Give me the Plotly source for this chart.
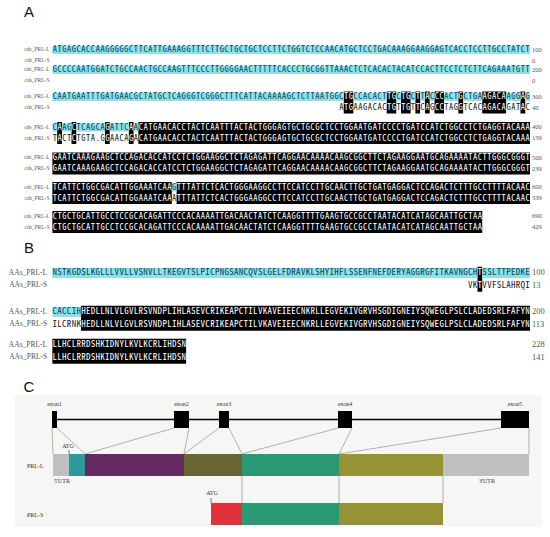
import plotly.graph_objects as go

# ---------------- data ----------------
# A: CDS alignment, PRL-L vs PRL-S (100 columns per block)
cds_L = [
    "ATGAGCACCAAGGGGGCTTCATTGAAAGGTTTCTTGCTGCTGCTCCTTCTGGTCTCCAACATGCTCCTGACAAAGGAAGGAGTCACCTCCTTGCCTATCT",
    "GCCCCAATGGATCTGCCAACTGCCAAGTTTCCCTTGGGGAACTTTTTCACCCTGCGGTTAAACTCTCACACTACATCCACTTCCTCTCTTCAGAAATGTT",
    "CAATGAATTTGATGAACGCTATGCTCAGGGTCGGGCTTTCATTACAAAAGCTCTTAATGGCTGCCACACTTGCTGCTTACCCACTGCTGAAGACAAGGAG",
    "CAAGCTCAGCAGATTCAACATGAACACCTACTCAATTTACTACTGGGAGTGCTGCGCTCCTGGAATGATCCCCTGATCCATCTGGCCTCTGAGGTACAAA",
    "GAATCAAAGAAGCTCCAGACACCATCCTCTGGAAGGCTCTAGAGATTCAGGAACAAAACAAGCGGCTTCTAGAAGGAATGCAGAAAATACTTGGGCGGGT",
    "TCATTCTGGCGACATTGGAAATCAAGTTTATTCTCACTGGGAAGGCCTTCCATCCTTGCAACTTGCTGATGAGGACTCCAGACTCTTTGCCTTTTACAAC",
    "CTGCTGCATTGCCTCCGCACAGATTCCCACAAAATTGACAACTATCTCAAGGTTTTGAAGTGCCGCCTAATACATCATAGCAATTGCTAA",
]
cds_S = [
    "",
    "",
    "ATGAAGACACTGTTGTTCAGCCTAGGTCACAGACAGATAC",
    "TACTCTGTA.GGAACAGACATGAACACCTACTCAATTTACTACTGGGAGTGCTGCGCTCCTGGAATGATCCCCTGATCCATCTGGCCTCTGAGGTACAAA",
    "GAATCAAAGAAGCTCCAGACACCATCCTCTGGAAGGCTCTAGAGATTCAGGAACAAAACAAGCGGCTTCTAGAAGGAATGCAGAAAATACTTGGGCGGGT",
    "TCATTCTGGCGACATTGGAAATCAAATTTATTCTCACTGGGAAGGCCTTCCATCCTTGCAACTTGCTGATGAGGACTCCAGACTCTTTGCCTTTTACAAC",
    "CTGCTGCATTGCCTCCGCACAGATTCCCACAAAATTGACAACTATCTCAAGGTTTTGAAGTGCCGCCTAATACATCATAGCAATTGCTAA",
]
cds_S_start = [0, 0, 60, 0, 0, 0, 0]          # column where PRL-S text begins
cds_ident = [                                  # identical columns (start, end)
    [],
    [],
    [(61, 63), (70, 72), (73, 75), (76, 77), (78, 79), (80, 82), (85, 86), (90, 95), (98, 99)],
    [(1, 2), (4, 5), (11, 12), (16, 17), (18, 100)],
    [(0, 100)],
    [(0, 25), (26, 100)],
    [(0, 90)],
]
cds_L_end = [100, 200, 300, 400, 500, 600, 690]
cds_S_end = [0, 0, 40, 139, 239, 339, 429]

# B: amino-acid alignment
aa_L = [
    "NSTKGDSLKGLLLVVLLVSNVLLTKEGVTSLPICPNGSANCQVSLGELFDRAVKLSHYIHFLSSENFNEFDERYAGGRGFITKAVNGCHTSSLTTPEDKE",
    "CACCIHHEDLLNLVLGVLRSVNDPLIHLASEVCRIKEAPCTILVKAVEIEECNKRLLEGVEKIVGRVHSGDIGNEIYSQWEGLPSLCLADEDSRLFAFYN",
    "LLHCLRRDSHKIDNYLKVLKCRLIHDSN",
]
aa_S = [
    "VKTVVFSLAHRQI",
    "ILCRNKHEDLLNLVLGVLRSVNDPLIHLASEVCRIKEAPCTILVKAVEIEECNKRLLEGVEKIVGRVHSGDIGNEIYSQWEGLPSLCLADEDSRLFAFYN",
    "LLHCLRRDSHKIDNYLKVLKCRLIHDSN",
]
aa_S_start = [87, 0, 0]
aa_ident = [[(89, 90)], [(6, 100)], [(0, 28)]]
aa_L_end = [100, 200, 228]
aa_S_end = [13, 113, 141]

# C: gene structure
exon_names = ["exon1", "exon2", "exon3", "exon4", "exon5"]
exon_start = [52, 174, 219, 338, 501]
exon_end = [57, 189, 229, 352, 529]
exon_tx_edges = [53, 85, 184, 242, 339, 529]     # where each exon lands on PRL-L
prl_l_edges = [53, 69, 85, 184, 242, 339, 443, 529]
prl_s_edges = [211, 242, 339, 443]
atg_l, atg_s = 69, 211

# ---------------- styling ----------------
X0, CW = 52.4, 4.776           # px of column 0, px per column
W, H = 550, 537
CYAN = "#86e4ea"
SEQ_FONT = "Noto Sans Mono CJK SC, Liberation Mono, monospace"
LAB_FONT = "Liberation Serif, serif"
prl_l_colors = ["#c0c0c0", "#2c9a9d", "#642b63", "#686733", "#2b9a74", "#969337", "#c0c0c0"]
prl_s_colors = ["#e1323c", "#2b9a74", "#969337"]

fig = go.Figure()
shapes = []


def runs(cols):
    out = []
    for c in cols:
        if out and out[-1][1] == c:
            out[-1][1] = c + 1
        else:
            out.append([c, c + 1])
    return out


def block(yL, yS, seqL, seqS, s0, ident, nL, nS, labL, labS, fs, lab_fs, lab_x, cyan_h):
    gap = yS - yL
    idset = {c for a, b in ident for c in range(a, b)}
    for a, b in ident:
        shapes.append(dict(type="rect", xref="x", yref="y", x0=a, x1=b,
                           y0=yL - gap / 2, y1=yS + gap / 2,
                           fillcolor="black", line_width=0, layer="below"))
    for a, b in runs([c for c in range(len(seqL)) if c not in idset]):
        shapes.append(dict(type="rect", xref="x", yref="y", x0=a, x1=b,
                           y0=yL - cyan_h / 2, y1=yL + cyan_h / 2,
                           fillcolor=CYAN, line_width=0, layer="below"))
    xs, ys, ts, cs = [], [], [], []
    for c, ch in enumerate(seqL):
        xs.append(c + 0.5); ys.append(yL); ts.append(ch)
        cs.append("white" if c in idset else "#1d3c5a")
    for i, ch in enumerate(seqS):
        c = s0 + i
        xs.append(c + 0.5); ys.append(yS); ts.append(ch)
        cs.append("white" if c in idset else "#222")
    fig.add_trace(go.Scatter(x=xs, y=ys, text=ts, mode="text", hoverinfo="skip",
                             textfont=dict(family=SEQ_FONT, size=fs, color=cs)))
    fig.add_trace(go.Scatter(x=[lab_x, lab_x], y=[yL, yS], text=[labL, labS], mode="text",
                             textposition="middle left", hoverinfo="skip",
                             textfont=dict(family=LAB_FONT, size=lab_fs, color="#555")))
    fig.add_trace(go.Scatter(x=[100.4, 100.4], y=[yL, yS], text=[str(nL), str(nS)],
                             mode="text", textposition="middle right", hoverinfo="skip",
                             textfont=dict(family=LAB_FONT, size=lab_fs + 1, color="#555")))


# A
a_rows_L = [50, 70, 97, 127.5, 158, 187.5, 216.5]
for k in range(len(cds_L)):
    block(a_rows_L[k], a_rows_L[k] + 11, cds_L[k], cds_S[k], cds_S_start[k], cds_ident[k],
          cds_L_end[k], cds_S_end[k], "cds_PRL-L", "cds_PRL-S", 8.5, 5.5, -0.6, 8)

# B
b_rows_L = [273, 312, 345]
for k in range(len(aa_L)):
    block(b_rows_L[k], b_rows_L[k] + 12.5, aa_L[k], aa_S[k], aa_S_start[k], aa_ident[k],
          aa_L_end[k], aa_S_end[k], "AAs_PRL-L", "AAs_PRL-S", 9, 7.5, -1.1, 10)

# C (on a px-scaled overlay axis)
shapes.insert(0, dict(type="rect", xref="x2", yref="y", x0=15, x1=542, y0=395, y1=527,
                      fillcolor="#f6f6f4", line_width=0, layer="below"))
shapes.append(dict(type="line", xref="x2", yref="y", x0=exon_end[0], x1=exon_start[-1],
                   y0=419.5, y1=419.5, line=dict(color="black", width=1.4)))
for s, e in zip(exon_start, exon_end):
    shapes.append(dict(type="rect", xref="x2", yref="y", x0=s, x1=e, y0=411, y1=428,
                       fillcolor="black", line_width=0))
for k in range(len(prl_l_colors)):
    shapes.append(dict(type="rect", xref="x2", yref="y", x0=prl_l_edges[k], x1=prl_l_edges[k + 1],
                       y0=454, y1=476, fillcolor=prl_l_colors[k], line_width=0))
for k in range(len(prl_s_colors)):
    shapes.append(dict(type="rect", xref="x2", yref="y", x0=prl_s_edges[k], x1=prl_s_edges[k + 1],
                       y0=503, y1=525, fillcolor=prl_s_colors[k], line_width=0))

lx, ly = [], []
for j in range(len(exon_names)):
    for gx, tx in ((exon_start[j], exon_tx_edges[j]), (exon_end[j], exon_tx_edges[j + 1])):
        lx += [gx, tx, None]; ly += [428, 454, None]
for e in prl_s_edges[1:]:
    lx += [e, e, None]; ly += [476, 503, None]
fig.add_trace(go.Scatter(x=lx, y=ly, xaxis="x2", mode="lines", hoverinfo="skip",
                         line=dict(color="#a0a0a0", width=0.8)))
fig.add_trace(go.Scatter(x=[atg_l, atg_l, None, atg_s, atg_s], y=[450, 454, None, 498, 503],
                         xaxis="x2", mode="lines", hoverinfo="skip",
                         line=dict(color="#444", width=0.7)))

tx_ = [(s + e) / 2 for s, e in zip(exon_start, exon_end)] + [atg_l - 1, atg_s + 1, 62, 487, 27, 27]
ty_ = [404] * 5 + [446, 493, 481, 481, 466, 515]
tt_ = exon_names + ["ATG", "ATG", "5'UTR", "3'UTR", "PRL-L", "PRL-S"]
tp_ = ["middle center"] * 9 + ["middle right", "middle right"]
fig.add_trace(go.Scatter(x=tx_, y=ty_, text=tt_, mode="text", xaxis="x2", hoverinfo="skip",
                         textposition=tp_,
                         textfont=dict(family=LAB_FONT, size=6, color="#333")))

# panel letters
fig.add_trace(go.Scatter(x=[29, 29, 29], y=[13, 249, 388], text=["A", "B", "C"], mode="text",
                         xaxis="x2", hoverinfo="skip",
                         textfont=dict(family="Liberation Sans, Arial", size=15, color="#111")))

fig.update_layout(
    width=W, height=H, margin=dict(l=0, r=0, t=0, b=0),
    paper_bgcolor="white", plot_bgcolor="white", showlegend=False,
    shapes=shapes,
    xaxis=dict(range=[-X0 / CW, (W - X0) / CW], visible=False, fixedrange=True),
    xaxis2=dict(range=[0, W], overlaying="x", visible=False, fixedrange=True),
    yaxis=dict(range=[H, 0], visible=False, fixedrange=True),
)

# drop the default 8px page margin so the figure sits at the window's origin
fig.write_html("out.html", config={"displayModeBar": False},
               post_script="document.body.style.margin='0';document.body.style.overflow='hidden';")
